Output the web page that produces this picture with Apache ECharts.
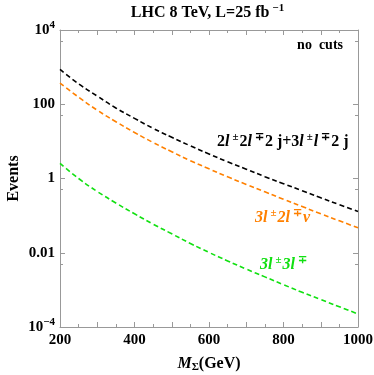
<!DOCTYPE html>
<html>
<head>
<meta charset="utf-8">
<script src="https://cdn.jsdelivr.net/npm/echarts@6/dist/echarts.min.js"></script>
<style>
  html, body { margin: 0; padding: 0; background: #fff; }
  #chart { width: 374px; height: 375px; }
</style>
</head>
<body>
<div id="chart"></div>
<script>
// masses (GeV) and event counts
var masses = [200, 250, 300, 350, 400, 450, 500, 550, 600, 650, 700, 750, 800, 850, 900, 950, 1000];
var events4l2j = [871, 355, 166, 79.4, 41.7, 22.4, 12.9, 7.59, 4.57, 2.82, 1.78, 1.12, 0.724, 0.468, 0.302, 0.197, 0.129];
var events3l2lnu = [372, 155, 69.2, 33.9, 17.4, 9.33, 5.25, 3.02, 1.82, 1.11, 0.692, 0.437, 0.275, 0.176, 0.112, 0.0724, 0.0468];
var events3l3l = [2.57, 1.0, 0.447, 0.219, 0.112, 0.0589, 0.0324, 0.0178, 0.0102, 0.00603, 0.00363, 0.00224, 0.00138, 0.000861, 0.00055, 0.000351, 0.000224];

var xTickLabels = [200, 400, 600, 800, 1000];
var yTickLabels = { '0.0001': '10{sup|−4}', '0.01': '0.01', '1': '1', '100': '100', '10000': '10{sup|4}' };

var serif = 'Liberation Serif';
var frameColor = '#999999';

var myChart = echarts.init(document.getElementById('chart'));

function pairs(ys) {
    return masses.map(function (m, i) { return [m, ys[i]]; });
}

function line(name, ys, color) {
    return {
        name: name,
        type: 'line',
        data: pairs(ys),
        smooth: true,
        symbol: 'none',
        lineStyle: { color: color, width: 1.6, type: [5, 3] }
    };
}

var supStyle = { fontFamily: serif, fontWeight: 'bold', fontSize: 11, padding: [0, 0, 9, 0] };

function xAxisDef(pos, labels) {
    return {
        type: 'value',
        position: pos,
        min: 200,
        max: 1000,
        interval: 100,
        axisLine: { show: true, lineStyle: { color: frameColor, width: 1 } },
        axisTick: { show: true, inside: true, length: 5, lineStyle: { color: frameColor } },
        minorTick: { show: true, splitNumber: 2, length: 3, lineStyle: { color: frameColor } },
        splitLine: { show: false },
        axisLabel: {
            show: labels,
            margin: 6,
            fontFamily: serif,
            fontWeight: 'bold',
            fontSize: 15,
            color: '#000',
            formatter: function (v) { return xTickLabels.indexOf(v) >= 0 ? String(v) : ''; }
        }
    };
}

function yAxisDef(pos, labels) {
    return {
        type: 'log',
        logBase: 100,
        position: pos,
        min: 1e-4,
        max: 1e4,
        axisLine: { show: true, lineStyle: { color: frameColor, width: 1 } },
        axisTick: { show: true, inside: true, length: 5, lineStyle: { color: frameColor } },
        minorTick: { show: true, splitNumber: 2, length: 3, lineStyle: { color: frameColor } },
        splitLine: { show: false },
        axisLabel: {
            show: labels,
            margin: 5,
            fontFamily: serif,
            fontWeight: 'bold',
            fontSize: 15,
            color: '#000',
            formatter: function (v) {
                var k = String(Number(v.toPrecision(3)));
                return yTickLabels[k] !== undefined ? yTickLabels[k] : '';
            },
            rich: { sup: supStyle }
        }
    };
}

var xa = xAxisDef('bottom', true);
xa.name = '{i|M}{sub|Σ}(GeV)';
xa.nameLocation = 'middle';
xa.nameGap = 28;
xa.nameTextStyle = {
    fontFamily: serif, fontWeight: 'bold', fontSize: 16, color: '#000',
    rich: {
        i: { fontFamily: serif, fontWeight: 'bold', fontStyle: 'italic', fontSize: 16 },
        sub: { fontFamily: serif, fontWeight: 'bold', fontSize: 11, padding: [7, 0, 0, 0] }
    }
};

var ya = yAxisDef('left', true);
ya.name = 'Events';
ya.nameLocation = 'middle';
ya.nameGap = 38;
ya.nameMoveOverlap = false;
ya.nameTextStyle = { fontFamily: serif, fontWeight: 'bold', fontSize: 16, color: '#000' };

var bold = { fontFamily: serif, fontWeight: 'bold', fontSize: 16 };
var boldIt = { fontFamily: serif, fontWeight: 'bold', fontStyle: 'italic', fontSize: 16 };

function label(x, y, text, color, align, size) {
    size = size || 16;
    return {
        type: 'text',
        x: x,
        y: y,
        style: {
            text: text,
            fill: color,
            align: align || 'left',
            verticalAlign: 'middle',
            font: 'bold ' + size + 'px "Liberation Serif"',
            rich: {
                n: Object.assign({ fill: color }, bold, { fontSize: size }),
                l: Object.assign({ fill: color }, boldIt, { fontSize: size }),
                s: Object.assign({ fill: color }, supStyle, { padding: [0, 1, 9, 3] })
            }
        }
    };
}

var option = {
    animation: false,
    grid: { left: 60, right: 16, top: 30, bottom: 48, outerBoundsMode: 'none', containLabel: false },
    xAxis: [xa, xAxisDef('top', false)],
    yAxis: [ya, yAxisDef('right', false)],
    series: [
        line('2l2l2j+3ll2j', events4l2j, '#000000'),
        line('3l2lnu', events3l2lnu, '#ff8000'),
        line('3l3l', events3l3l, '#11e011')
    ],
    graphic: [
        label(208, 13, '{n|LHC 8 TeV, L=25 fb}{s|−1}', '#000', 'center', 16),
        label(343, 45, '{n|no  cuts}', '#000', 'right', 14),
        label(217, 142, '{n|2}{l|l}{s|±}{n|2}{l|l}{s|∓}{n|2 j+3}{l|l}{s|±}{l|l}{s|∓}{n|2 j}', '#000', 'left', 16),
        label(255, 218, '{l|3l}{s|±}{l|2l}{s|∓}{l|ν}', '#ff8000', 'left', 16),
        label(260, 265, '{l|3l}{s|±}{l|3l}{s|∓}', '#11e011', 'left', 16)
    ]
};

myChart.setOption(option);
</script>
</body>
</html>
